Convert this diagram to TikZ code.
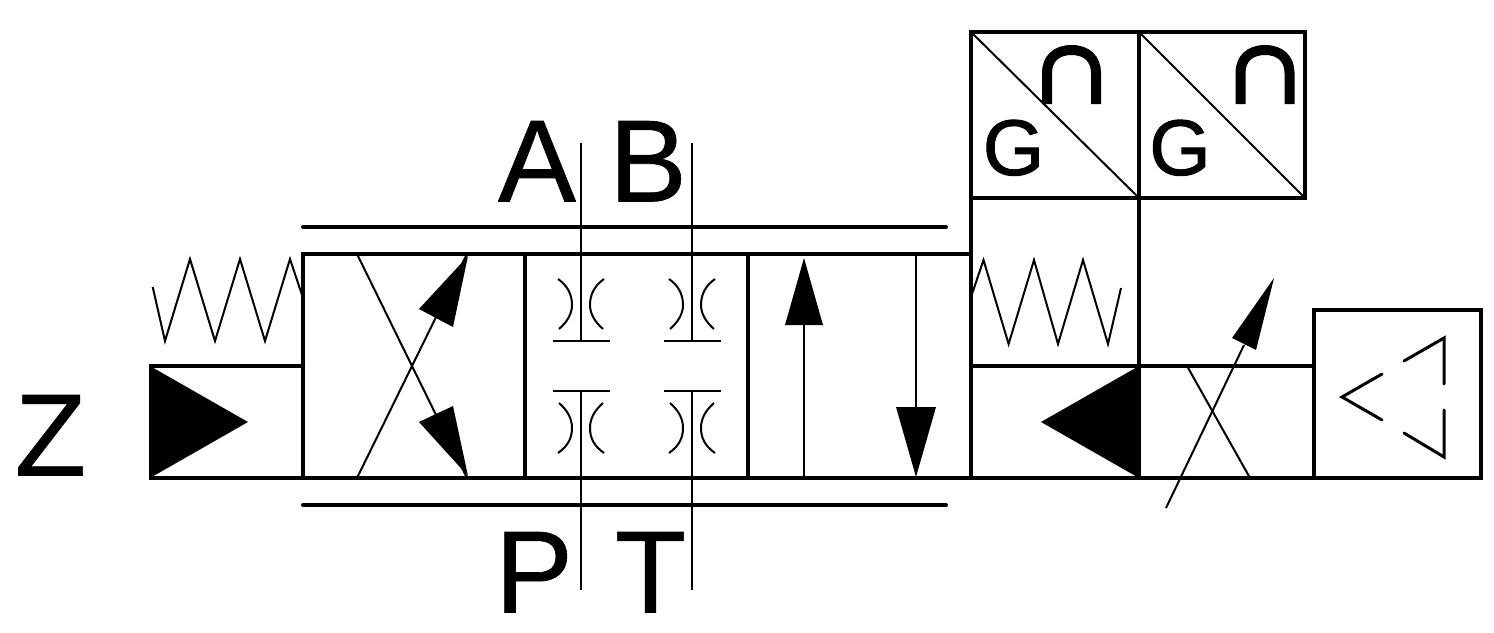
\documentclass[tikz,border=0pt]{standalone}
\usepackage{fontspec}
\setmainfont{Liberation Sans}
\newfontfamily\geefont[FakeBold=1.2]{Liberation Sans}
\newfontfamily\bigfont[FakeBold=0.5]{Liberation Sans}
\tikzset{
  heavy/.style={line width=4pt,line cap=round,line join=miter},
  thin/.style={line width=2pt,line join=miter},
  mid/.style={line width=3pt,line cap=round,line join=miter},
  tip/.style={fill=black,draw=none},
  big/.style={font=\bigfont\fontsize{117}{117}\selectfont,inner sep=0pt,anchor=base},
  gee/.style={font=\geefont\fontsize{79}{79}\selectfont,inner sep=0pt,anchor=base},
  arch/.style={line width=10pt,line cap=butt}
}
\begin{document}
\begin{tikzpicture}[x=1pt,y=-1pt]
\useasboundingbox (0,0) rectangle (1494,632);
\fill[white] (0,0) rectangle (1494,632);
% heavy frame
\draw[heavy] (303,366) -- (151,366) -- (151,478) -- (1481,478) -- (1481,310) -- (1314,310) -- (1314,478);
\draw[heavy] (303,478) -- (303,254) -- (971,254);
\draw[heavy] (525,254) -- (525,478);
\draw[heavy] (748,254) -- (748,478);
\draw[heavy] (971,32) -- (971,478);
\draw[heavy] (1139,32) -- (1139,478);
\draw[heavy] (971,366) -- (1314,366);
\draw[heavy] (971,32) rectangle (1305,198);
\draw[heavy] (303,227) -- (946,227);
\draw[heavy] (303,505) -- (946,505);
% diagonals of the top boxes
\draw[thin] (971,32) -- (1139,198);
\draw[thin] (1139,32) -- (1305,198);
% left spring
\draw[thin] (152.7,287) -- (165,341) -- (190,259) -- (215,341) -- (240,259) -- (265,341) -- (290,259) -- (302,295);
% right spring
\draw[thin] (972,294) -- (983.5,260) -- (1008.6,344) -- (1034,260) -- (1058,344) -- (1083,260) -- (1108,344) -- (1121,288);
% pilot triangles
\fill[tip] (150,366) -- (150,478) -- (248,422) -- cycle;
\fill[tip] (1139,366) -- (1139,478) -- (1041,422) -- cycle;
% crossed cell
\draw[thin] (357,254) -- (467,478);
\draw[thin] (357,478) -- (467,254);
\fill[tip] (468,256) -- (419,309) -- (453,327) -- cycle;
\fill[tip] (468,476) -- (419,422) -- (453,406) -- cycle;
% centre cell ports
\draw[thin] (581,143) -- (581,341);
\draw[thin] (692,143) -- (692,341);
\draw[thin] (581,391) -- (581,590);
\draw[thin] (692,391) -- (692,590);
\draw[thin] (553,341) -- (610,341);
\draw[thin] (664,341) -- (721,341);
\draw[thin] (553,391) -- (610,391);
\draw[thin] (664,391) -- (721,391);
% orifices
\foreach \dx in {0,111}{
  \begin{scope}[xshift=\dx pt]
  \draw[thin] (558,279) .. controls (568,286) and (572,295) .. (572,305) .. controls (572,314) and (567,322) .. (559,329);
  \draw[thin] (604,279) .. controls (594,286) and (590,295) .. (590,305) .. controls (590,314) and (595,322) .. (603,329);
  \draw[thin] (559,403) .. controls (567,410) and (572,418) .. (572,428) .. controls (572,438) and (568,446) .. (558,453);
  \draw[thin] (603,403) .. controls (595,410) and (590,418) .. (590,428) .. controls (590,438) and (594,446) .. (604,453);
  \end{scope}
}
% parallel cell
\draw[thin] (804,478) -- (804,320);
\fill[tip] (804,258) -- (785,325) -- (823,325) -- cycle;
\draw[thin] (916,254) -- (916,410);
\fill[tip] (916,477) -- (896,407) -- (936,407) -- cycle;
% adjustable cross
\draw[thin] (1187,366) -- (1250,478);
\draw[thin] (1166,508) -- (1244,345);
\fill[tip] (1274,278) -- (1232,338) -- (1256,350) -- cycle;
% right box symbol
\draw[mid] (1382,374) -- (1342,397) -- (1382,420);
\draw[mid] (1404,361) -- (1444,338) -- (1444,384);
\draw[mid] (1404,433) -- (1444,457) -- (1444,410);
% arches
\foreach \dx in {0,193.5}{
  \draw[arch,xshift=\dx pt] (1047,104) -- (1047,73) .. controls (1047,59) and (1056,50) .. (1071.5,50) .. controls (1087,50) and (1096,59) .. (1096,73) -- (1096,104);
}
% labels
\node[big] (la) at (537,201.5) {A};
\node[big] (lb) at (648,201.5) {B};
\node[big] (lz) at (50.5,475.5) {Z};
\node[big] (lp) at (534,612.5) {P};
\node[big] (lt) at (650.5,612.5) {T};
\node[gee] (g1) at (1013.5,175) {G};
\node[gee] (g2) at (1180,175) {G};
\end{tikzpicture}
\end{document}
